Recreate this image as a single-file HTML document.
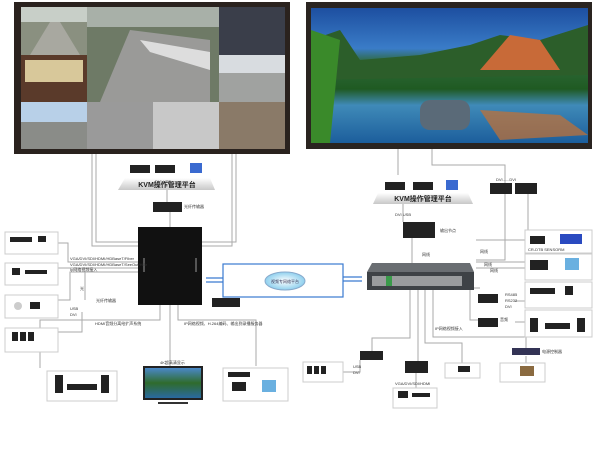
<!DOCTYPE html>
<html><head><meta charset="utf-8"><style>
body{margin:0;background:#fff;width:600px;height:469px;overflow:hidden;font-family:"Liberation Sans","Noto Sans CJK SC",sans-serif}
svg text{font-family:"Liberation Sans","Noto Sans CJK SC",sans-serif}
</style></head><body>
<svg width="600" height="469" viewBox="0 0 600 469" xmlns="http://www.w3.org/2000/svg">
<defs>
<linearGradient id="sky" x1="0" y1="0" x2="0" y2="1"><stop offset="0" stop-color="#1d4fa0"/><stop offset=".3" stop-color="#3a7cc8"/><stop offset=".4" stop-color="#2f6a3a"/><stop offset=".6" stop-color="#1f5a22"/><stop offset=".72" stop-color="#3f8ab8"/><stop offset="1" stop-color="#1c5e9c"/></linearGradient>
<linearGradient id="tv" x1="0" y1="0" x2="0" y2="1"><stop offset="0" stop-color="#4a88c8"/><stop offset=".5" stop-color="#2f6b2c"/><stop offset="1" stop-color="#2a6aa0"/></linearGradient>
<linearGradient id="plat" x1="0" y1="0" x2="0" y2="1"><stop offset="0" stop-color="#fff"/><stop offset="1" stop-color="#c8c8c8"/></linearGradient>
<radialGradient id="cl"><stop offset="0" stop-color="#fff"/><stop offset="1" stop-color="#8fd0ee"/></radialGradient>
</defs>
<rect x="14" y="2" width="276" height="152" fill="#2a221e"/>
<rect x="21" y="7" width="66" height="48" fill="#8a9080"/>
<rect x="21" y="7" width="66" height="15" fill="#c8cfc8"/>
<polygon points="30,55 50,22 60,22 80,55" fill="#a8a8a0"/>
<rect x="21" y="55" width="66" height="47" fill="#5a3a2a"/>
<rect x="25" y="60" width="58" height="22" fill="#d8c89a"/>
<rect x="87" y="7" width="132" height="95" fill="#6e7a66"/>
<rect x="87" y="7" width="132" height="20" fill="#a8b0a8"/>
<polygon points="100,102 130,30 210,40 210,102" fill="#9a9a98"/>
<polygon points="140,40 210,52 210,70 150,52" fill="#ddd"/>
<rect x="219" y="7" width="66" height="48" fill="#3a3e4a"/>
<rect x="219" y="55" width="66" height="47" fill="#a0a2a0"/>
<rect x="219" y="55" width="66" height="18" fill="#d8dce0"/>
<rect x="21" y="102" width="66" height="47" fill="#8a8c88"/>
<rect x="21" y="102" width="66" height="20" fill="#b8d0e8"/>
<rect x="87" y="102" width="66" height="47" fill="#9a9a9a"/>
<rect x="153" y="102" width="66" height="47" fill="#c8c8c8"/>
<rect x="219" y="102" width="66" height="47" fill="#8a7a68"/>
<rect x="306" y="2" width="286" height="147" fill="#2a2420"/>
<rect x="311" y="8" width="277" height="135" fill="url(#sky)"/>
<polygon points="311,40 340,30 360,60 420,55 470,45 500,35 540,40 588,25 588,75 311,80" fill="#2c5e2a"/>
<polygon points="480,70 510,35 540,40 560,70" fill="#c86a38"/>
<polygon points="311,30 340,40 330,143 311,143" fill="#3a8a2a"/>
<rect x="420" y="100" width="50" height="30" fill="#5a6a78" rx="10"/>
<polygon points="480,110 560,115 588,135 500,140" fill="#c87030" opacity=".7"/>
<g stroke="#aaa" stroke-width="1" fill="none">
<path d="M92,154 V246 H138"/><path d="M96,154 V242 H138"/>
<path d="M232,154 V246 H202"/><path d="M236,154 V242 H202"/>
<path d="M398,149 V175"/><path d="M432,149 V165 H505 V183"/>
<path d="M167,190 V202"/><path d="M170,212 V228"/>
<path d="M58,243 H68 V262 H138"/><path d="M58,268 H138"/><path d="M58,300 H70 V272 H138"/>
<path d="M85,272 V300"/><path d="M82,312 V332 H58"/>
<path d="M160,305 V320 H40 V368"/><path d="M170,305 V366"/><path d="M178,305 V320 H256 V366"/>
<path d="M403,204 V222"/><path d="M412,238 V263"/>
<path d="M505,194 V260 H476"/><path d="M528,194 V268 H476"/>
<path d="M525,240 H476"/><path d="M525,262 H476"/><path d="M474,288 H480"/>
<path d="M470,288 V320 H490"/><path d="M515,301 H525"/><path d="M515,322 H525"/>
<path d="M410,290 V338 H372 V351"/><path d="M418,290 V361"/><path d="M425,290 V343 H462 V363"/><path d="M433,290 V337 H526 V348"/>
<path d="M416,373 V388"/><path d="M526,356 V363"/><path d="M360,360 V372 H343"/>
</g>
<g stroke="#3a7ad0" stroke-width="1.2" fill="none">
<rect x="223" y="264" width="120" height="33"/>
<path d="M206,278 H223"/><path d="M206,282 H223"/><path d="M343,277 H362"/><path d="M343,281 H362"/>
</g>
<ellipse cx="285" cy="281" rx="20" ry="9" fill="url(#cl)" stroke="#8ac"/>
<text x="285" y="283" font-size="4" text-anchor="middle" fill="#335">视频专网络平台</text>
<polygon points="125,178 210,178 215,190 118,190" fill="url(#plat)"/>
<rect x="130" y="165" width="20" height="8" fill="#222"/><rect x="155" y="165" width="20" height="8" fill="#222"/><rect x="190" y="163" width="12" height="10" fill="#3a6ad0"/>
<text x="167" y="187" font-size="7" font-weight="bold" text-anchor="middle" fill="#222">KVM操作管理平台</text>
<polygon points="378,193 468,193 473,204 373,204" fill="url(#plat)"/>
<rect x="385" y="182" width="20" height="8" fill="#222"/><rect x="413" y="182" width="20" height="8" fill="#222"/><rect x="446" y="180" width="12" height="10" fill="#3a6ad0"/>
<text x="423" y="201" font-size="7" font-weight="bold" text-anchor="middle" fill="#222">KVM操作管理平台</text>
<rect x="153" y="202" width="29" height="10" fill="#222"/>
<rect x="138" y="227" width="64" height="78" fill="#111"/>
<rect x="143" y="258" width="2" height="14" fill="#555"/><rect x="195" y="258" width="2" height="14" fill="#555"/>
<rect x="212" y="298" width="28" height="9" fill="#222"/>
<rect x="403" y="222" width="32" height="16" fill="#222"/>
<polygon points="372,263 470,263 474,272 367,272" fill="#6a6e72"/>
<rect x="367" y="272" width="107" height="18" fill="#3e4246"/>
<rect x="372" y="276" width="90" height="10" fill="#9a9c9e"/>
<rect x="386" y="276" width="6" height="10" fill="#3a9a4a"/>
<rect x="490" y="183" width="22" height="11" fill="#222"/><rect x="515" y="183" width="22" height="11" fill="#222"/>
<rect x="478" y="294" width="20" height="9" fill="#222"/><rect x="478" y="318" width="20" height="9" fill="#222"/>
<rect x="360" y="351" width="23" height="9" fill="#222"/><rect x="405" y="361" width="23" height="12" fill="#222"/>
<rect x="512" y="348" width="28" height="7" fill="#335"/>
<g fill="#fff" stroke="#ccc"><rect x="5" y="232" width="53" height="22"/><rect x="5" y="263" width="53" height="22"/><rect x="5" y="295" width="53" height="23"/><rect x="5" y="328" width="53" height="24"/>
<rect x="47" y="371" width="70" height="30"/><rect x="223" y="368" width="65" height="33"/>
<rect x="525" y="230" width="67" height="23"/><rect x="525" y="254" width="67" height="26"/><rect x="525" y="282" width="67" height="26"/><rect x="525" y="310" width="67" height="27"/>
<rect x="303" y="362" width="40" height="20"/><rect x="393" y="388" width="44" height="20"/><rect x="445" y="363" width="35" height="15"/><rect x="500" y="363" width="45" height="19"/></g>
<g fill="#222"><rect x="10" y="237" width="22" height="5"/><rect x="38" y="236" width="8" height="6"/><rect x="12" y="268" width="8" height="7"/><rect x="25" y="270" width="22" height="4"/>
<circle cx="18" cy="306" r="4" fill="#ccc"/><rect x="30" y="302" width="10" height="7"/>
<rect x="12" y="332" width="6" height="9"/><rect x="20" y="332" width="6" height="9"/><rect x="28" y="332" width="6" height="9"/>
<rect x="55" y="375" width="8" height="18"/><rect x="101" y="375" width="8" height="18"/><rect x="67" y="384" width="30" height="6"/>
<rect x="228" y="372" width="22" height="5"/><rect x="232" y="382" width="14" height="9"/><rect x="262" y="380" width="14" height="12" fill="#6ab0e0"/>
<rect x="530" y="236" width="15" height="8"/><rect x="560" y="234" width="22" height="10" fill="#2a4ac0"/>
<rect x="530" y="260" width="18" height="10"/><rect x="565" y="258" width="14" height="12" fill="#6ab0e0"/>
<rect x="530" y="288" width="25" height="6"/><rect x="565" y="286" width="8" height="9"/>
<rect x="530" y="318" width="8" height="14"/><rect x="577" y="318" width="8" height="14"/><rect x="545" y="323" width="25" height="6"/>
<rect x="307" y="366" width="5" height="8"/><rect x="314" y="366" width="5" height="8"/><rect x="321" y="366" width="5" height="8"/>
<rect x="398" y="391" width="10" height="7"/><rect x="412" y="393" width="18" height="4"/><rect x="458" y="366" width="12" height="6"/><rect x="520" y="366" width="14" height="10" fill="#8a6a40"/></g>
<rect x="143" y="366" width="60" height="34" fill="#222"/><rect x="145" y="368" width="56" height="30" fill="url(#tv)"/>
<rect x="158" y="402" width="30" height="2" fill="#333"/>
<g font-size="4" fill="#333">
<text x="70" y="260">VGA/DVI/SDI/HDMI/HDBaseT/Fiber</text><text x="70" y="266">VGA/DVI/SDI/HDMI/HDBaseT/SeeOut/Hi3r</text><text x="70" y="271">Ip网络视频接入</text>
<text x="95" y="325">HDMI音频分离给扩声系统</text><text x="184" y="325">IP网络视频、H.264编码、输出到录播服务器</text>
<text x="160" y="364">4K超高清显示</text><text x="70" y="310">USB</text><text x="70" y="316">DVI</text>
<text x="184" y="208">光纤传输器</text><text x="96" y="302">光纤传输器</text>
<text x="155" y="183" font-size="4">DVI  USB</text><text x="395" y="216">DVI  USB</text><text x="440" y="232">输出节点</text>
<text x="422" y="256">网线</text><text x="480" y="253">网线</text><text x="484" y="266">网线</text><text x="490" y="272">网线</text>
<text x="505" y="296">RS485</text><text x="505" y="302">RS232</text><text x="505" y="308">DVI</text><text x="500" y="321">音频</text>
<text x="528" y="251">CR-DTB SENSORM</text><text x="435" y="330">IP网络视频接入</text><text x="542" y="353">电源控制器</text>
<text x="395" y="385">VGA/DVI/SDI/HDMI</text><text x="353" y="368">USB</text><text x="353" y="374">DVI</text>
<text x="496" y="181">DVI......DVI</text><text x="80" y="290">光</text>
</g>
</svg>
</body></html>
